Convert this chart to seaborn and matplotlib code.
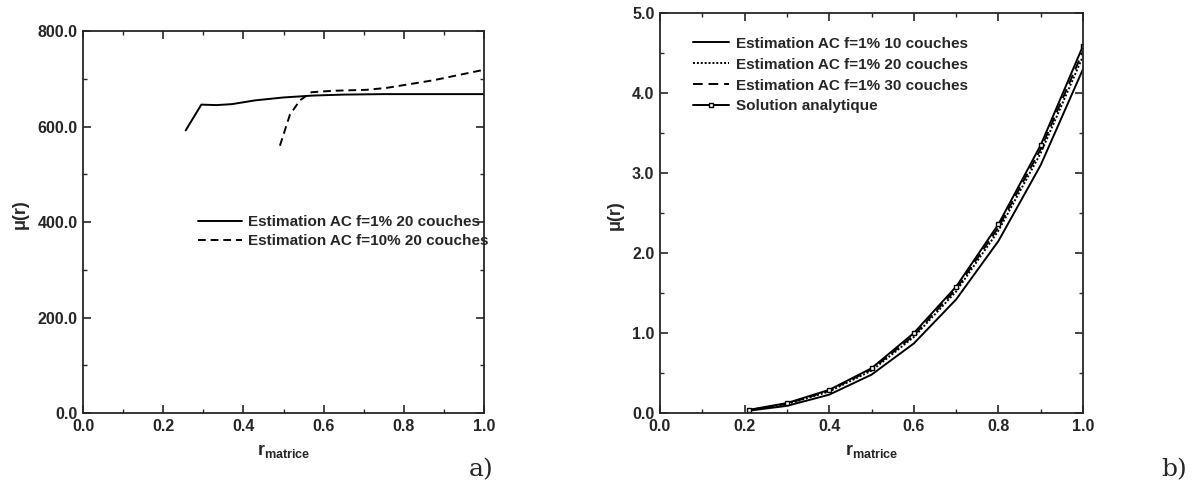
import pandas as pd
import seaborn as sns
import matplotlib.pyplot as plt
from matplotlib.ticker import MultipleLocator, FormatStrFormatter

# === 1. Donnees ===
# a) f=1% et f=10%, 20 couches
r_a1 = [0.256, 0.295, 0.333, 0.371, 0.43, 0.50, 0.574, 0.65, 0.75, 0.85, 1.00]
mu_a1 = [592, 646, 645, 647, 655, 661, 665, 667, 668, 668, 668]
r_a10 = [0.491, 0.516, 0.541, 0.570, 0.624, 0.707, 0.757, 0.874, 1.00]
mu_a10 = [560, 625, 655, 672, 675, 677, 681, 697, 719]

# b) f=1%, 10/20/30 couches et solution analytique
r_b = [0.21, 0.30, 0.40, 0.50, 0.60, 0.70, 0.80, 0.90, 1.00]
mu_10c = [0.03, 0.09, 0.23, 0.48, 0.87, 1.42, 2.15, 3.10, 4.30]
mu_20c = [0.035, 0.11, 0.27, 0.53, 0.95, 1.52, 2.28, 3.25, 4.46]
mu_30c = [0.037, 0.115, 0.28, 0.545, 0.97, 1.55, 2.32, 3.30, 4.52]
mu_ana = [0.04, 0.125, 0.29, 0.56, 1.00, 1.58, 2.36, 3.35, 4.59]

labels_a = ['Estimation AC f=1% 20 couches', 'Estimation AC f=10% 20 couches']
labels_b = ['Estimation AC f=1% 10 couches', 'Estimation AC f=1% 20 couches',
            'Estimation AC f=1% 30 couches', 'Solution analytique']

# === 2. Style ===
sns.set_style('ticks')
plt.rcParams['font.family'] = ['Liberation Sans', 'DejaVu Sans']
plt.rcParams['mathtext.default'] = 'regular'

fig = plt.figure(figsize=(11.95, 4.82), dpi=100)
ax1 = fig.add_axes([0.0695, 0.143, 0.3355, 0.7925])
ax2 = fig.add_axes([0.5523, 0.143, 0.354, 0.830])

lw = 1.4
leg_font = {'size': 11, 'weight': 'bold'}

# === 3. Panneau a) ===
df_a1 = pd.DataFrame({'r': r_a1, 'mu': mu_a1})
df_a10 = pd.DataFrame({'r': r_a10, 'mu': mu_a10})
sns.lineplot(data=df_a1, x='r', y='mu', ax=ax1, color='black', lw=lw,
             label=labels_a[0], sort=False)
sns.lineplot(data=df_a10, x='r', y='mu', ax=ax1, color='black', lw=lw,
             linestyle=(0, (4, 2.5)), label=labels_a[1], sort=False)
ax1.set_xlim(0, 1)
ax1.set_ylim(0, 800)
ax1.yaxis.set_major_locator(MultipleLocator(200))
ax1.yaxis.set_minor_locator(MultipleLocator(100))
ax1.yaxis.set_major_formatter(FormatStrFormatter('%.1f'))
ax1.legend(loc='center left', bbox_to_anchor=(0.252, 0.475), frameon=False,
           prop=leg_font, handlelength=2.9, handletextpad=0.4, labelspacing=0.35)

# === 4. Panneau b) ===
df_b = pd.DataFrame({'r': r_b, 'c10': mu_10c, 'c20': mu_20c, 'c30': mu_30c, 'ana': mu_ana})
sns.lineplot(data=df_b, x='r', y='c10', ax=ax2, color='black', lw=lw, label=labels_b[0])
sns.lineplot(data=df_b, x='r', y='c20', ax=ax2, color='black', lw=lw,
             linestyle=(0, (1, 1)), label=labels_b[1])
sns.lineplot(data=df_b, x='r', y='c30', ax=ax2, color='black', lw=lw,
             linestyle=(0, (5, 3)), label=labels_b[2])
sns.lineplot(data=df_b, x='r', y='ana', ax=ax2, color='black', lw=lw, marker='s',
             markersize=3.5, markerfacecolor='white', markeredgecolor='black',
             markeredgewidth=1, label=labels_b[3])
ax2.set_xlim(0, 1)
ax2.set_ylim(0, 5)
ax2.yaxis.set_major_locator(MultipleLocator(1.0))
ax2.yaxis.set_minor_locator(MultipleLocator(0.5))
ax2.yaxis.set_major_formatter(FormatStrFormatter('%.1f'))
ax2.legend(loc='upper left', bbox_to_anchor=(0.045, 0.975), frameon=False,
           prop=leg_font, handlelength=2.4, handletextpad=0.45, labelspacing=0.45)

# === 5. Axes communs ===
for ax in (ax1, ax2):
    ax.xaxis.set_major_locator(MultipleLocator(0.2))
    ax.xaxis.set_minor_locator(MultipleLocator(0.1))
    ax.xaxis.set_major_formatter(FormatStrFormatter('%.1f'))
    ax.tick_params(which='both', direction='in', top=True, right=True)
    ax.tick_params(which='major', length=6, width=1.2, labelsize=11.5, pad=4)
    ax.tick_params(which='minor', length=3, width=1)
    for lab in ax.get_xticklabels() + ax.get_yticklabels():
        lab.set_fontweight('bold')
    for sp in ax.spines.values():
        sp.set_linewidth(1.3)
    ax.set_xlabel(r'$r_{matrice}$', fontsize=13, fontweight='bold', labelpad=6)
    ax.set_ylabel('\u03bc(r)', fontsize=13, fontweight='bold')

ax1.yaxis.set_label_coords(-0.135, 0.52)
ax2.yaxis.set_label_coords(-0.085, 0.495)

fig.text(0.392, 0.012, 'a)', fontsize=18, family='DejaVu Serif')
fig.text(0.972, 0.012, 'b)', fontsize=18, family='DejaVu Serif')

fig.savefig('out.png', dpi=100)
